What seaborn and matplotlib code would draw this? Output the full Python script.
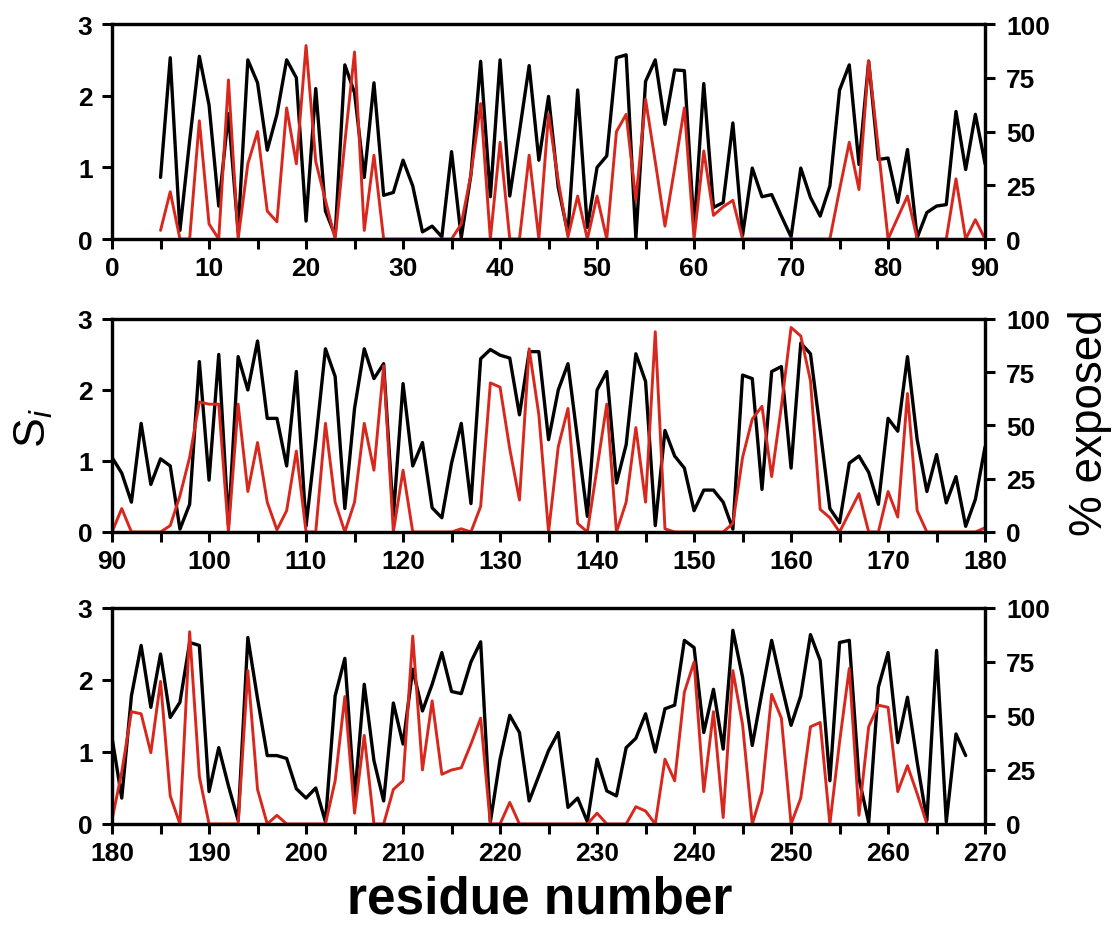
import numpy as np
import pandas as pd
import matplotlib
matplotlib.use("Agg")
import matplotlib.pyplot as plt
import seaborn as sns

# S_i per residue, residues 5..268
si_start = 5
si_values = [
    0.86, 2.53, 0.12, 1.37, 2.55, 1.87, 0.46, 1.75, 0.10, 2.50,   # 5-14
    2.18, 1.24, 1.74, 2.50, 2.25, 0.25, 2.10, 0.39, 0.05, 2.43,   # 15-24
    2.04, 0.86, 2.18, 0.61, 0.65, 1.10, 0.74, 0.10, 0.18, 0.03,   # 25-34
    1.22, 0.02, 0.90, 2.48, 0.59, 2.50, 0.60, 1.50, 2.42, 1.10,   # 35-44
    1.99, 0.72, 0.08, 2.08, 0.16, 1.00, 1.16, 2.53, 2.57, 0.01,   # 45-54
    2.20, 2.50, 1.60, 2.36, 2.35, 0.15, 2.17, 0.44, 0.51, 1.62,   # 55-64
    0.05, 0.99, 0.59, 0.62, 0.32, 0.03, 0.99, 0.58, 0.32, 0.74,   # 65-74
    2.08, 2.43, 1.04, 2.48, 1.11, 1.13, 0.51, 1.25, 0.02, 0.37,   # 75-84
    0.46, 0.48, 1.78, 0.97, 1.74, 1.05, 0.83, 0.42, 1.53, 0.67,   # 85-94
    1.03, 0.93, 0.04, 0.39, 2.40, 0.73, 2.50, 0.10, 2.47, 2.00,   # 95-104
    2.69, 1.60, 1.60, 0.93, 2.26, 0.08, 1.28, 2.58, 2.19, 0.33,   # 105-114
    1.74, 2.58, 2.16, 2.37, 0.22, 2.09, 0.93, 1.26, 0.34, 0.20,   # 115-124
    0.97, 1.53, 0.40, 2.44, 2.57, 2.49, 2.45, 1.65, 2.54, 2.54,   # 125-134
    1.30, 2.00, 2.37, 1.30, 0.22, 2.00, 2.26, 0.69, 1.23, 2.51,   # 135-144
    2.12, 0.09, 1.43, 1.07, 0.90, 0.30, 0.59, 0.59, 0.42, 0.04,   # 145-154
    2.21, 2.16, 0.60, 2.26, 2.33, 0.90, 2.66, 2.51, 1.44, 0.33,   # 155-164
    0.13, 0.97, 1.07, 0.84, 0.39, 1.60, 1.42, 2.47, 1.30, 0.57,   # 165-174
    1.09, 0.41, 0.78, 0.08, 0.46, 1.20, 0.36, 1.78, 2.48, 1.62,   # 175-184
    2.36, 1.48, 1.69, 2.52, 2.48, 0.45, 1.06, 0.53, 0.05, 2.59,   # 185-194
    1.74, 0.95, 0.95, 0.91, 0.49, 0.36, 0.50, 0.03, 1.78, 2.30,   # 195-204
    0.35, 1.94, 0.88, 0.32, 1.68, 1.11, 2.15, 1.57, 1.94, 2.38,   # 205-214
    1.84, 1.81, 2.25, 2.53, 0.03, 0.90, 1.51, 1.27, 0.32, 0.67,   # 215-224
    1.02, 1.27, 0.23, 0.36, 0.03, 0.90, 0.46, 0.39, 1.06, 1.19,   # 225-234
    1.53, 1.00, 1.60, 1.65, 2.55, 2.45, 1.27, 1.87, 1.04, 2.69,   # 235-244
    2.04, 1.09, 1.83, 2.55, 1.94, 1.37, 1.78, 2.63, 2.27, 0.60,   # 245-254
    2.52, 2.55, 0.63, 0.02, 1.90, 2.38, 1.13, 1.76, 0.86, 0.05,   # 255-264
    2.41, 0.03, 1.25, 0.95,                                       # 265-268
]

# % exposed per residue, residues 5..264
exposed_start = 5
exposed_values = [
    4, 22, 0, 0, 55, 7, 0, 74, 0, 35,            # 5-14
    50, 13, 8, 61, 35, 90, 36, 18, 0, 45,        # 15-24
    87, 4, 39, 0, 0, 0, 0, 0, 0, 0,              # 25-34
    0, 7, 30, 63, 0, 45, 0, 0, 39, 0,            # 35-44
    58, 27, 1, 20, 0, 20, 0, 50, 58, 18,         # 45-54
    65, 36, 6, 33, 61, 0, 41, 11, 15, 18,        # 55-64
    0, 0, 0, 0, 0, 0, 0, 0, 0, 0,                # 65-74
    23, 45, 23, 83, 42, 0, 10, 20, 0, 0,         # 75-84
    0, 0, 28, 0, 9, 0, 11, 0, 0, 0,              # 85-94
    0, 3, 17, 35, 61, 60, 60, 0, 60, 19,         # 95-104
    42, 14, 1, 10, 38, 0, 0, 51, 14, 0,          # 105-114
    14, 51, 29, 78, 0, 29, 0, 0, 0, 0,           # 115-124
    0, 1.5, 0, 12, 70, 68, 39, 15, 86, 55,       # 125-134
    0, 40, 58, 4, 0, 30, 60, 0, 14, 49,          # 135-144
    14, 94, 1.5, 0, 0, 0, 0, 0, 0, 4,            # 145-154
    35, 53, 59, 26, 59, 96, 92, 71, 10.6, 6.7,   # 155-164
    0, 9, 18, 0, 0, 19, 7, 65, 10, 0,            # 165-174
    0, 0, 0, 0, 0, 2, 24, 52, 51, 33,            # 175-184
    66, 13, 0, 89, 22, 0, 0, 0, 0, 71,           # 185-194
    16, 0, 4, 0, 0, 0, 0, 0, 20, 59,             # 195-204
    5, 41, 0, 0, 16, 20, 87, 25, 57, 23,         # 205-214
    25, 26, 37, 49, 0, 0, 10, 0, 0, 0,           # 215-224
    0, 0, 0, 0, 0, 5, 0, 0, 0, 8,                # 225-234
    6, 0, 30, 20, 61, 75, 15, 52, 3, 71,         # 235-244
    46, 0, 15, 60, 49, 0, 12, 45, 47, 0,         # 245-254
    38, 72, 4, 45, 55, 54, 15, 27, 14, 0,        # 255-264
]

panel_ranges = [(0, 90), (90, 180), (180, 270)]
si_ticks = [0, 1, 2, 3]
exposed_ticks = [0, 25, 50, 75, 100]

si_df = pd.DataFrame({
    "residue": np.arange(si_start, si_start + len(si_values)),
    "si": si_values,
})
exp_df = pd.DataFrame({
    "residue": np.arange(exposed_start, exposed_start + len(exposed_values)),
    "exposed": exposed_values,
})

sns.set_style("ticks")
plt.rcParams["font.family"] = ["Liberation Sans", "DejaVu Sans"]
plt.rcParams["mathtext.fontset"] = "custom"
plt.rcParams["mathtext.rm"] = "Liberation Sans"
plt.rcParams["mathtext.it"] = "Liberation Sans:italic"
plt.rcParams["text.color"] = "black"

fig = plt.figure(figsize=(11.17, 9.45), dpi=100)

boxes = [
    (0.1003, 0.746, 0.7816, 0.2275),
    (0.1003, 0.436, 0.7816, 0.2254),
    (0.1003, 0.127, 0.7816, 0.2286),
]

tick_font = dict(fontsize=19, fontweight="bold")
red = "#d8281e"

for (lo, hi), box in zip(panel_ranges, boxes):
    ax = fig.add_axes(box)
    sns.lineplot(data=si_df, x="residue", y="si", ax=ax, color="black", lw=2.4)
    ax2 = ax.twinx()
    sns.lineplot(data=exp_df, x="residue", y="exposed", ax=ax2, color=red, lw=2.1)

    ax.set_xlim(lo, hi)
    ax.set_ylim(0, 3)
    ax2.set_ylim(0, 100)

    xt = list(range(lo, hi + 1, 5))
    ax.set_xticks(xt)
    ax.set_xticklabels([str(t) if t % 10 == 0 else "" for t in xt], **tick_font)
    ax.set_yticks(si_ticks)
    ax.set_yticklabels([str(t) for t in si_ticks], **tick_font)
    ax2.set_yticks(exposed_ticks)
    ax2.set_yticklabels([str(t) for t in exposed_ticks], **tick_font)

    for a in (ax, ax2):
        a.set_xlabel("")
        a.set_ylabel("")
        for s in a.spines.values():
            s.set_linewidth(2.3)
            s.set_color("black")
        a.tick_params(length=7, width=2.2, direction="out", colors="black")
    ax.tick_params(axis="x", pad=5)
    ax.tick_params(axis="y", pad=7)
    ax2.tick_params(axis="y", pad=8)

fig.text(0.030, 1 - 428 / 945, r"$\mathrm{S}_{i}$", rotation=90,
         fontsize=32, ha="center", va="center", color="black")
fig.text(0.976, 1 - 423 / 945, "% exposed", rotation=90,
         fontsize=33, ha="center", va="center", color="black")
fig.text(0.483, 1 - 900 / 945, "residue number", fontsize=37,
         fontweight="bold", ha="center", va="center", color="black")

fig.savefig("out.png", dpi=100)
